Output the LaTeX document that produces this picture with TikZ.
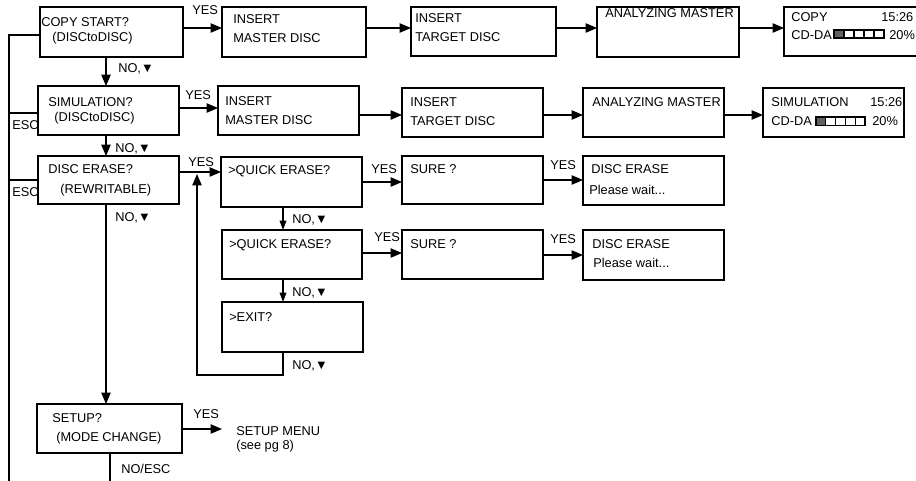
\documentclass[tikz,border=0pt]{standalone}
\usepackage{fontspec}
\setmainfont{Liberation Sans}
\usetikzlibrary{arrows.meta}
\newcommand\mybox[5]{\node[box, minimum width={(#4-#2)*0.75pt}, minimum height={(#5-#3)*0.75pt}] (#1) at (#2,#3) {};}
\begin{document}
\begin{tikzpicture}[x=0.75pt,y=-0.75pt,
  box/.style={draw, line width=1.05pt, anchor=north west, inner sep=0pt, outer sep=0pt},
  lbl/.style={anchor=base west, inner sep=0pt, font=\fontsize{9.6pt}{11pt}\selectfont},
  arr/.style={line width=0.85pt, -{Triangle[length=8.5pt,width=7pt]}},
  sarr/.style={line width=0.85pt, -{Triangle[length=7pt,width=5pt]}},
  ln/.style={line width=1pt},
  cell/.style={line width=0.85pt}]
\useasboundingbox (0,0) rectangle (916,480);
\clip (0,0) rectangle (916,480);
% ---- boxes
\mybox{cs}{40}{7}{183}{57}
\mybox{sim}{38}{86}{179}{135}
\mybox{de}{38}{156}{179}{204}
\mybox{setup}{37}{404}{182}{453}
\mybox{imA}{222}{7}{366}{57}
\mybox{itA}{411}{7}{556}{56}
\mybox{amA}{597}{7}{739}{57}
\mybox{cp}{784}{7}{930}{56}
\mybox{imB}{218}{86}{359}{135}
\mybox{itB}{402}{88}{543}{137}
\mybox{amB}{583}{88}{724}{137}
\mybox{sr}{763}{88}{904}{137}
\mybox{qa}{221}{157}{362}{207}
\mybox{qb}{222}{230}{362}{279}
\mybox{ex}{222}{302}{363}{352}
\mybox{sa}{402}{156}{543}{204}
\mybox{sb}{402}{230}{543}{279}
\mybox{da}{583}{156}{724}{205}
\mybox{db}{583}{230}{724}{280}
% ---- texts in boxes
\node[lbl] (tcs1) at (41,26) {COPY START?};
\node[lbl] (tcs2) at (52,41) {(DISCtoDISC)};
\node[lbl] (tsim1) at (48,106) {SIMULATION?};
\node[lbl] (tsim2) at (54,121) {(DISCtoDISC)};
\node[lbl] (tde1) at (48,173) {DISC ERASE?};
\node[lbl] (tde2) at (60,193) {(REWRITABLE)};
\node[lbl] (tsu1) at (52,422.5) {SETUP?};
\node[lbl] (tsu2) at (56,441) {(MODE CHANGE)};
\node[lbl] (timA1) at (233,23.5) {INSERT};
\node[lbl] (timA2) at (233,42) {MASTER DISC};
\node[lbl] (titA1) at (415,22.5) {INSERT};
\node[lbl] (titA2) at (415,41.5) {TARGET DISC};
\node[lbl] (tamA) at (605,17) {ANALYZING MASTER};
\node[lbl] (tcp1) at (791,21) {COPY};
\node[lbl] (tcp2) at (881,21) {15:26};
\node[lbl] (tcp3) at (791,39) {CD-DA};
\node[lbl] (tcp4) at (889,39) {20\%};
\node[lbl] (timB1) at (225,105) {INSERT};
\node[lbl] (timB2) at (225,124) {MASTER DISC};
\node[lbl] (titB1) at (410,106) {INSERT};
\node[lbl] (titB2) at (410,125) {TARGET DISC};
\node[lbl] (tamB) at (592,106) {ANALYZING MASTER};
\node[lbl] (tsr1) at (771,106) {SIMULATION};
\node[lbl] (tsr2) at (870,106) {15:26};
\node[lbl] (tsr3) at (771,125.5) {CD-DA};
\node[lbl] (tsr4) at (872,125.5) {20\%};
\node[lbl] (tqa) at (228,174) {>QUICK ERASE?};
\node[lbl] (tqb) at (229,248) {>QUICK ERASE?};
\node[lbl] (tex) at (229,321.5) {>EXIT?};
\node[lbl] (tsa) at (410,173) {SURE ?};
\node[lbl] (tsb) at (410,248) {SURE ?};
\node[lbl] (tda1) at (591,173) {DISC ERASE};
\node[lbl] (tda2) at (589,194) {Please wait...};
\node[lbl] (tdb1) at (592,248) {DISC ERASE};
\node[lbl] (tdb2) at (593,267) {Please wait...};
\node[lbl] (tsm1) at (236,435) {SETUP MENU};
\node[lbl] (tsm2) at (236,449) {(see pg 8)};
% ---- progress bars
\fill[black!62] (834,30) rectangle (844,38);
\foreach \i in {0,...,4} \draw[cell] ({834+10*\i},30) rectangle ++(10,8);
\fill[black!62] (816,117) rectangle (826,125.5);
\foreach \i in {0,...,4} \draw[cell] ({816+9.8*\i},117) rectangle ++(9.8,8.5);
% ---- connector labels
\node[lbl] (yA) at (192,14) {YES};
\node[lbl] (nA) at (118,72) {NO,▼};
\node[lbl] (yB) at (185,99) {YES};
\node[lbl] (nB) at (115,152) {NO,▼};
\node[lbl] (yC) at (188,166) {YES};
\node[lbl] (nC) at (115,221) {NO,▼};
\node[lbl] (yD) at (371,173) {YES};
\node[lbl] (yE) at (550,169) {YES};
\node[lbl] (nD) at (292,223) {NO,▼};
\node[lbl] (yF) at (374,241) {YES};
\node[lbl] (yG) at (550,243) {YES};
\node[lbl] (nE) at (292,296) {NO,▼};
\node[lbl] (nF) at (292,369) {NO,▼};
\node[lbl] (yH) at (193,418) {YES};
\node[lbl] (nG) at (121,473) {NO/ESC};
\node[lbl] (escA) at (12,129) {ESC};
\node[lbl] (escB) at (12,196.5) {ESC};
% ---- coordinates
\coordinate (lefttop) at (9,35);
\coordinate (leftbot) at (9,490);
\coordinate (setupout) at (110,490);
\coordinate (loopend) at (197,174);
\coordinate (menuin) at (222,429);
% ---- connectors row 1
\draw[arr] (cs.east |- 0,28) -- (imA.west |- 0,28);
\draw[arr] (imA.east |- 0,28) -- (itA.west |- 0,28);
\draw[arr] (itA.east |- 0,28) -- (amA.west |- 0,28);
\draw[arr] (amA.east |- 0,28) -- (cp.west |- 0,28);
% ---- row 2
\draw[arr] (sim.east |- 0,108) -- (imB.west |- 0,108);
\draw[arr] (imB.east |- 0,115) -- (itB.west |- 0,115);
\draw[arr] (itB.east |- 0,115) -- (amB.west |- 0,115);
\draw[arr] (amB.east |- 0,115) -- (sr.west |- 0,115);
% ---- main column
\draw[arr] (cs.south -| 106,0) -- (sim.north -| 106,0);
\draw[arr] (sim.south -| 106,0) -- (de.north -| 106,0);
\draw[arr] (de.south -| 106,0) -- (setup.north -| 106,0);
\draw[ln] (setup.south -| 110,0) -- (setupout);
\draw[arr] (setup.east |- menuin) -- (menuin);
% ---- erase branch
\draw[arr] (de.east |- 0,172) -- (qa.west |- 0,172);
\draw[arr] (qa.east |- 0,182) -- (sa.west |- 0,182);
\draw[arr] (sa.east |- 0,180) -- (da.west |- 0,180);
\draw[sarr] (qa.south -| 283,0) -- (qb.north -| 283,0);
\draw[arr] (qb.east |- 0,253) -- (sb.west |- 0,253);
\draw[arr] (sb.east |- 0,255) -- (db.west |- 0,255);
\draw[sarr] (qb.south -| 283,0) -- (ex.north -| 283,0);
\draw[arr] (ex.south -| 283,0) -- (283,375) -- (197,375) -- (loopend);
% ---- ESC return lines
\draw[ln] (cs.west |- lefttop) -- (lefttop) -- (leftbot);
\draw[ln] (sim.west |- 0,113) -- (lefttop |- 0,113);
\draw[ln] (de.west |- 0,180) -- (lefttop |- 0,180);
\end{tikzpicture}
\end{document}
